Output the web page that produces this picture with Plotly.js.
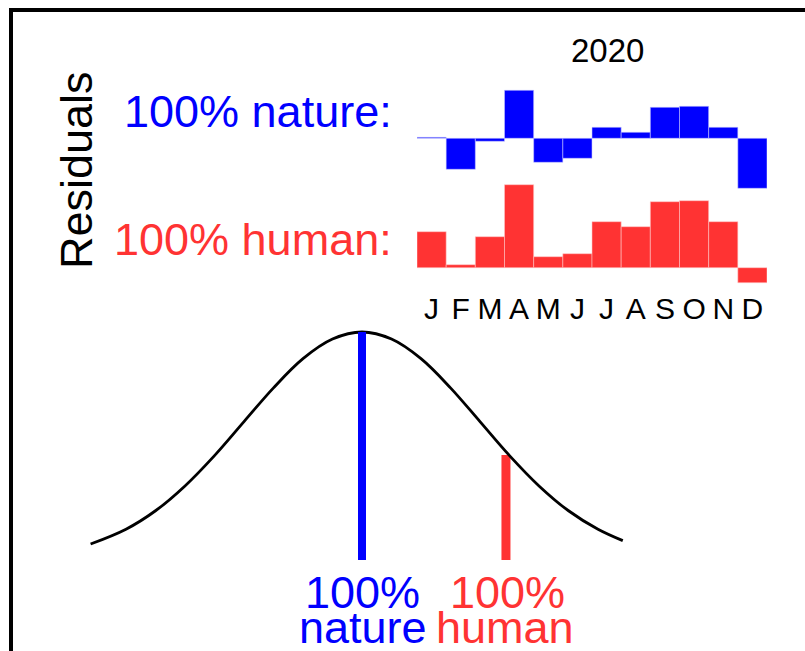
<!DOCTYPE html>
<html>
<head>
<meta charset="utf-8">
<script src="https://cdn.plot.ly/plotly-3.0.1.min.js"></script>
<style>
  html, body { margin: 0; padding: 0; background: #ffffff; }
  #chart { width: 805px; height: 651px; }
</style>
</head>
<body>
<div id="chart"></div>
<script>
// ---- data ----
var months = ['J','F','M','A','M','J','J','A','S','O','N','D'];
var natureResiduals = [0.1, -3.1, -0.3, 4.8, -2.4, -2.0, 1.1, 0.6, 3.1, 3.2, 1.1, -5.0];
var humanResiduals  = [3.6, 0.3, 3.1, 8.3, 1.1, 1.4, 4.6, 4.1, 6.6, 6.7, 4.6, -1.5];
var yearLabel = '2020';

// bell curve (in units of its spread; height relative to peak)
var bellX = [-2.3, -2.0, -1.75, -1.5, -1.25, -1.0, -0.75, -0.5, -0.25, 0, 0.25, 0.5, 0.75, 1.0, 1.25, 1.5, 1.75, 2.0, 2.21];
var bellY = [0.07, 0.135, 0.216, 0.325, 0.458, 0.607, 0.755, 0.883, 0.969, 1.0, 0.969, 0.883, 0.755, 0.607, 0.458, 0.325, 0.216, 0.135, 0.085];

// the two markers on the curve
var natureMarkX = [0, 0];
var natureMarkY = [0, 1.0];
var humanMarkX = [1.22, 1.22];
var humanMarkY = [0, 0.46];

var BLUE = '#0000ff';
var RED = '#ff3333';
var FONT = 'Liberation Sans, Arial, Helvetica, sans-serif';

var idx = months.map(function (m, i) { return i; });

var traces = [
  {
    type: 'bar', x: idx, y: natureResiduals, xaxis: 'x', yaxis: 'y',
    marker: { color: BLUE, line: { color: 'rgba(200,200,255,0.7)', width: 0.8 } },
    width: 1, hoverinfo: 'skip', showlegend: false
  },
  {
    type: 'bar', x: idx, y: humanResiduals, xaxis: 'x2', yaxis: 'y2',
    marker: { color: RED, line: { color: 'rgba(255,200,200,0.7)', width: 0.8 } },
    width: 1, hoverinfo: 'skip', showlegend: false
  },
  {
    type: 'scatter', mode: 'lines', x: humanMarkX, y: humanMarkY, xaxis: 'x3', yaxis: 'y3',
    line: { color: RED, width: 9 }, hoverinfo: 'skip', showlegend: false
  },
  {
    type: 'scatter', mode: 'lines', x: bellX, y: bellY, xaxis: 'x3', yaxis: 'y3',
    line: { color: '#000000', width: 2.8, shape: 'spline', smoothing: 1 },
    hoverinfo: 'skip', showlegend: false
  },
  {
    type: 'scatter', mode: 'lines', x: natureMarkX, y: natureMarkY, xaxis: 'x3', yaxis: 'y3',
    line: { color: BLUE, width: 8 }, hoverinfo: 'skip', showlegend: false
  }
];

var W = 805, H = 651;
function px(v) { return v / W; }
function py(v) { return 1 - v / H; }

var hidden = { showgrid: false, zeroline: false, showline: false, showticklabels: false, ticks: '', fixedrange: true };

var layout = {
  width: W, height: H,
  margin: { l: 0, r: 0, t: 0, b: 0, pad: 0 },
  paper_bgcolor: '#ffffff', plot_bgcolor: 'rgba(0,0,0,0)',
  bargap: 0,
  font: { family: FONT, color: '#000000' },
  xaxis: Object.assign({}, hidden, { domain: [px(417), px(767)], range: [-0.5, 11.5], anchor: 'y' }),
  yaxis: Object.assign({}, hidden, { domain: [py(198.3), py(78.3)], range: [-6, 6], anchor: 'x' }),
  xaxis2: Object.assign({}, hidden, {
    domain: [px(417), px(767)], range: [-0.5, 11.5], anchor: 'free', position: py(288),
    showticklabels: true, tickmode: 'array', tickvals: idx, ticktext: months,
    tickfont: { family: FONT, size: 30, color: '#000000' }
  }),
  yaxis2: Object.assign({}, hidden, { domain: [py(292.7), py(177.7)], range: [-2.5, 9], anchor: 'x2' }),
  xaxis3: Object.assign({}, hidden, { domain: [0, 1], range: [-362 / 118, 443 / 118], anchor: 'y3' }),
  yaxis3: Object.assign({}, hidden, { domain: [py(580), py(300)], range: [-20 / 228, 260 / 228], anchor: 'x3' }),
  shapes: [
    { type: 'rect', xref: 'paper', yref: 'paper', x0: px(11), x1: 1.05, y0: -0.05, y1: py(10),
      line: { color: '#000000', width: 4 }, fillcolor: 'rgba(0,0,0,0)' }
  ],
  annotations: [
    { xref: 'paper', yref: 'paper', x: px(607), y: py(50.5), text: yearLabel, showarrow: false,
      xanchor: 'center', yanchor: 'middle', font: { family: FONT, size: 33, color: '#000000' } },
    { xref: 'paper', yref: 'paper', x: px(76), y: py(170), text: 'Residuals', textangle: -90, showarrow: false,
      xanchor: 'center', yanchor: 'middle', font: { family: FONT, size: 45, color: '#000000' } },
    { xref: 'paper', yref: 'paper', x: px(394), y: py(111), text: '100% nature:', showarrow: false,
      xanchor: 'right', yanchor: 'middle', font: { family: FONT, size: 45, color: BLUE } },
    { xref: 'paper', yref: 'paper', x: px(394), y: py(240), text: '100% human:', showarrow: false,
      xanchor: 'right', yanchor: 'middle', font: { family: FONT, size: 45, color: RED } },
    { xref: 'paper', yref: 'paper', x: px(362.5), y: py(592), text: '100%', showarrow: false,
      xanchor: 'center', yanchor: 'middle', font: { family: FONT, size: 45, color: BLUE } },
    { xref: 'paper', yref: 'paper', x: px(362.5), y: py(627), text: 'nature', showarrow: false,
      xanchor: 'center', yanchor: 'middle', font: { family: FONT, size: 45, color: BLUE } },
    { xref: 'paper', yref: 'paper', x: px(507), y: py(592), text: '100%', showarrow: false,
      xanchor: 'center', yanchor: 'middle', font: { family: FONT, size: 45, color: RED } },
    { xref: 'paper', yref: 'paper', x: px(505), y: py(627), text: 'human', showarrow: false,
      xanchor: 'center', yanchor: 'middle', font: { family: FONT, size: 45, color: RED } }
  ]
};

Plotly.newPlot('chart', traces, layout, { displayModeBar: false, staticPlot: true });
</script>
</body>
</html>
